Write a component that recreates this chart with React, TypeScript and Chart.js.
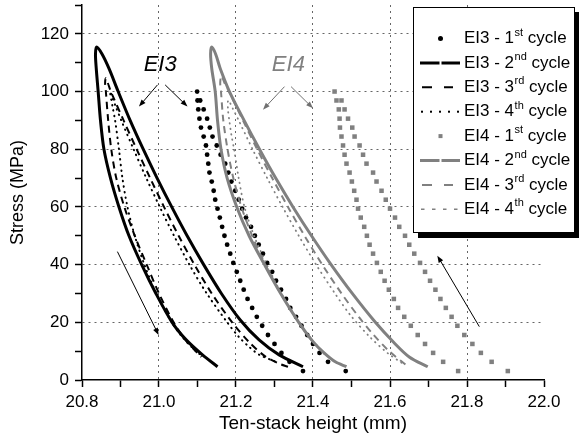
import { useEffect, useRef } from 'react';
import { Chart, registerables } from 'chart.js';

Chart.register(...registerables);

const FONT = '"Liberation Sans", Arial, sans-serif';
const GRAY = '#808080';

// ---- data (x = ten-stack height in mm, y = stress in MPa) ----
const stressLevels = [100, 96.9, 93.8, 90.6, 87.5, 84.4, 81.3, 78.1, 75, 71.9, 68.8, 65.6, 62.5, 59.4, 56.3, 53.1, 50, 46.9, 43.8, 40.6, 37.5, 34.4, 31.3, 28.1, 25, 21.9, 18.8, 15.6, 12.5, 9.4, 6.3, 3.1];

const ei3Cycle1Left = [21.099, 21.100, 21.102, 21.105, 21.109, 21.116, 21.122, 21.125, 21.128, 21.131, 21.137, 21.142, 21.146, 21.152, 21.158, 21.164, 21.170, 21.177, 21.185, 21.193, 21.202, 21.211, 21.220, 21.230, 21.242, 21.254, 21.268, 21.283, 21.300, 21.318, 21.339, 21.374];
const ei3Cycle1Right = [21.099, 21.107, 21.116, 21.125, 21.132, 21.139, 21.150, 21.160, 21.172, 21.180, 21.188, 21.198, 21.207, 21.216, 21.226, 21.239, 21.249, 21.259, 21.270, 21.281, 21.294, 21.304, 21.317, 21.330, 21.341, 21.356, 21.370, 21.385, 21.400, 21.417, 21.439, 21.485];

const ei4Cycle1Left = [21.456, 21.461, 21.467, 21.469, 21.470, 21.474, 21.478, 21.482, 21.487, 21.495, 21.501, 21.507, 21.513, 21.517, 21.524, 21.533, 21.540, 21.547, 21.556, 21.566, 21.576, 21.586, 21.597, 21.610, 21.621, 21.637, 21.654, 21.672, 21.691, 21.712, 21.738, 21.777];
const ei4Cycle1Right = [21.456, 21.474, 21.482, 21.491, 21.502, 21.508, 21.521, 21.530, 21.539, 21.556, 21.565, 21.578, 21.589, 21.600, 21.613, 21.624, 21.639, 21.650, 21.663, 21.678, 21.691, 21.704, 21.718, 21.731, 21.745, 21.760, 21.775, 21.793, 21.814, 21.836, 21.864, 21.906];

const ei3Cycle2X = [21.374, 21.312, 21.260, 21.211, 21.162, 21.116, 21.073, 21.033, 20.995, 20.959, 20.925, 20.894, 20.870, 20.852, 20.838, 20.835, 20.837, 20.842, 20.848, 20.857, 20.874, 20.896, 20.922, 20.955, 20.992, 21.034, 21.070, 21.113, 21.152];
const ei3Cycle2Y = [4.6, 8.7, 13.9, 20.8, 30, 40, 50, 60, 70, 80, 90, 100, 108, 113, 115.4, 113, 108, 100, 90, 80, 70, 60, 50, 40, 30, 20, 14, 8.7, 4.6];

const ei3Cycle3X = [21.335, 21.315, 21.275, 21.235, 21.190, 21.137, 21.092, 21.051, 21.013, 20.977, 20.942, 20.908, 20.875, 20.867, 20.862, 20.860, 20.862, 20.868, 20.876, 20.889, 20.910, 20.937, 20.968, 21.000, 21.038, 21.068, 21.095, 21.110];
const ei3Cycle3Y = [4.6, 5.5, 8.3, 13, 20, 30, 40, 50, 60, 70, 80, 90, 100, 103, 104.6, 103, 100, 90, 80, 70, 60, 50, 40, 30, 20, 14, 10, 8];

const ei3Cycle4X = [21.300, 21.261, 21.233, 21.207, 21.177, 21.124, 21.079, 21.039, 21.002, 20.967, 20.934, 20.902, 20.887, 20.873, 20.879, 20.886, 20.896, 20.905, 20.918, 20.937, 20.962, 20.993, 21.033, 21.060, 21.088, 21.105];
const ei3Cycle4Y = [6.5, 8.7, 11.6, 15, 20, 30, 40, 50, 60, 70, 80, 90, 95, 100, 95, 90, 80, 70, 60, 50, 40, 30, 20, 15, 11, 9];

const ei4Cycle2X = [21.698, 21.650, 21.610, 21.562, 21.502, 21.447, 21.396, 21.348, 21.303, 21.261, 21.221, 21.183, 21.159, 21.147, 21.137, 21.134, 21.137, 21.146, 21.152, 21.161, 21.177, 21.202, 21.234, 21.274, 21.316, 21.363, 21.400, 21.428, 21.458, 21.487];
const ei4Cycle2Y = [4.6, 8, 13, 20, 30, 40, 50, 60, 70, 80, 90, 100, 108, 113, 115.4, 113, 108, 100, 90, 80, 70, 60, 50, 40, 30, 20, 13.3, 9.5, 6.3, 4.6];

const ei4Cycle3X = [21.640, 21.597, 21.555, 21.521, 21.474, 21.424, 21.378, 21.335, 21.294, 21.255, 21.218, 21.182, 21.170, 21.162, 21.159, 21.161, 21.167, 21.178, 21.193, 21.214, 21.242, 21.276, 21.316, 21.363, 21.398, 21.430];
const ei4Cycle3Y = [5.4, 10.1, 16, 21.5, 30, 40, 50, 60, 70, 80, 90, 100, 103, 105.5, 103, 100, 90, 80, 70, 60, 50, 40, 30, 20, 13.5, 9];

const ei4Cycle4X = [21.630, 21.595, 21.547, 21.497, 21.457, 21.408, 21.363, 21.321, 21.281, 21.243, 21.207, 21.192, 21.180, 21.179, 21.183, 21.188, 21.195, 21.207, 21.222, 21.247, 21.280, 21.318, 21.364, 21.396, 21.424];
const ei4Cycle4Y = [6, 9.2, 15, 22.5, 30, 40, 50, 60, 70, 80, 90, 94, 97, 94, 89.6, 85, 80, 70, 60, 50, 40, 30, 20, 14, 10];

// legend texts
const legendSpecimen = ['EI3', 'EI3', 'EI3', 'EI3', 'EI4', 'EI4', 'EI4', 'EI4'];
const legendCycle = ['1', '2', '3', '4', '1', '2', '3', '4'];
const legendSuffix = ['st', 'nd', 'rd', 'th', 'st', 'nd', 'rd', 'th'];

// annotations (data coordinates)
const labelText = ['EI3', 'EI4'];
const labelX = [21.003, 21.336];
const labelY = [109.3, 109.3];
const arrowFromX = [20.996, 21.016, 21.326, 21.343, 20.892, 21.832];
const arrowFromY = [102.3, 102.3, 101.7, 101.7, 44.5, 18.5];
const arrowToX = [20.948, 21.074, 21.270, 21.400, 20.999, 21.723];
const arrowToY = [94.8, 94.8, 93.7, 94.2, 15.6, 43.1];
const arrowIsGray = [false, false, true, true, false, false];

const xTicks = { min: 20.8, max: 22.0, step: 0.1 };
const yTicks = { min: 0, max: 130, step: 10 };

const pts = (xs: number[], ys: number[]) => xs.map((x, i) => ({ x, y: ys[i] }));
const loopPts = (left: number[], right: number[]) => [
  ...pts(left, stressLevels),
  ...pts(right.slice(1), stressLevels.slice(1)),
];

function drawArrow(ctx: CanvasRenderingContext2D, x1: number, y1: number, x2: number, y2: number, color: string) {
  const ang = Math.atan2(y2 - y1, x2 - x1);
  const len = 7;
  const hw = 2.6;
  ctx.save();
  ctx.strokeStyle = color;
  ctx.fillStyle = color;
  ctx.lineWidth = 1;
  ctx.beginPath();
  ctx.moveTo(x1, y1);
  ctx.lineTo(x2 - Math.cos(ang) * len * 0.8, y2 - Math.sin(ang) * len * 0.8);
  ctx.stroke();
  ctx.beginPath();
  ctx.moveTo(x2, y2);
  ctx.lineTo(x2 - Math.cos(ang) * len + Math.sin(ang) * hw, y2 - Math.sin(ang) * len - Math.cos(ang) * hw);
  ctx.lineTo(x2 - Math.cos(ang) * len - Math.sin(ang) * hw, y2 - Math.sin(ang) * len + Math.cos(ang) * hw);
  ctx.closePath();
  ctx.fill();
  ctx.restore();
}

const annotationPlugin = {
  id: 'annotations',
  afterDatasetsDraw(chart: any) {
    const { ctx, scales } = chart;
    const xs = scales.x;
    const ys = scales.y;
    ctx.save();
    ctx.font = `italic 22px ${FONT}`;
    ctx.textAlign = 'center';
    ctx.textBaseline = 'middle';
    labelText.forEach((t, i) => {
      ctx.fillStyle = i === 0 ? '#000' : GRAY;
      ctx.fillText(t, xs.getPixelForValue(labelX[i]), ys.getPixelForValue(labelY[i]));
    });
    ctx.restore();
    arrowFromX.forEach((_, i) => {
      drawArrow(
        ctx,
        xs.getPixelForValue(arrowFromX[i]),
        ys.getPixelForValue(arrowFromY[i]),
        xs.getPixelForValue(arrowToX[i]),
        ys.getPixelForValue(arrowToY[i]),
        arrowIsGray[i] ? '#707070' : '#000'
      );
    });
  },
};

const legendPlugin = {
  id: 'boxLegend',
  afterDraw(chart: any) {
    const { ctx, chartArea } = chart;
    const bx = chartArea.right - 131;
    const by = 7;
    const bw = 162;
    const bh = 226;
    ctx.save();
    ctx.fillStyle = '#000';
    ctx.fillRect(bx + 5, by + 5, bw, bh);
    ctx.fillStyle = '#fff';
    ctx.fillRect(bx, by, bw, bh);
    ctx.strokeStyle = '#000';
    ctx.lineWidth = 1;
    ctx.strokeRect(bx + 0.5, by + 0.5, bw - 1, bh - 1);

    const sx = bx + 7;
    const tx = bx + 51;
    legendSpecimen.forEach((spec, i) => {
      const y = by + 31.5 + i * 24.4;
      const color = i < 4 ? '#000' : GRAY;
      const kind = i % 4;
      ctx.save();
      ctx.strokeStyle = color;
      ctx.fillStyle = color;
      if (kind === 0) {
        if (i < 4) {
          ctx.beginPath();
          ctx.arc(sx + 20.5, y, 2.5, 0, Math.PI * 2);
          ctx.fill();
        } else {
          ctx.fillRect(sx + 18.5, y - 2, 4, 4);
        }
      } else if (kind === 1) {
        ctx.lineWidth = 3;
        ctx.beginPath();
        ctx.moveTo(sx, y);
        ctx.lineTo(sx + 19.5, y);
        ctx.moveTo(sx + 21.5, y);
        ctx.lineTo(sx + 40, y);
        ctx.stroke();
      } else if (kind === 2) {
        ctx.lineWidth = 2;
        ctx.beginPath();
        ctx.moveTo(sx + 2, y);
        ctx.lineTo(sx + 12, y);
        ctx.moveTo(sx + 24, y);
        ctx.lineTo(sx + 33, y);
        ctx.stroke();
      } else {
        if (i < 4) {
          [2, 11, 20, 29, 38].forEach((d) => ctx.fillRect(sx + d - 1, y - 1, 2, 2));
        } else {
          ctx.lineWidth = 1.5;
          ctx.beginPath();
          [1, 12, 23, 34].forEach((d) => {
            ctx.moveTo(sx + d, y);
            ctx.lineTo(sx + d + 3.5, y);
          });
          ctx.stroke();
        }
      }
      ctx.restore();

      ctx.fillStyle = '#000';
      ctx.textBaseline = 'middle';
      ctx.textAlign = 'left';
      ctx.font = `17px ${FONT}`;
      const base = `${spec} - ${legendCycle[i]}`;
      ctx.fillText(base, tx, y);
      const w1 = ctx.measureText(base).width;
      ctx.font = `11px ${FONT}`;
      ctx.fillText(legendSuffix[i], tx + w1 + 0.5, y - 6);
      const w2 = ctx.measureText(legendSuffix[i]).width;
      ctx.font = `17px ${FONT}`;
      ctx.fillText(' cycle', tx + w1 + 0.5 + w2, y);
    });
    ctx.restore();
  },
};

const isMajorX = (v: number) => Math.round(v * 10) % 2 === 0;
const gridDotColor = 'rgba(0,0,0,0.6)';

export default function App() {
  const ref = useRef<HTMLCanvasElement>(null);

  useEffect(() => {
    if (!ref.current) return;
    const lineDs = (label: string, xs: number[], ys: number[], color: string, width: number, dash: number[], cap = 'butt') => ({
      label,
      data: pts(xs, ys),
      showLine: true,
      borderColor: color,
      backgroundColor: color,
      borderWidth: width,
      borderDash: dash,
      borderCapStyle: cap,
      pointRadius: 0,
      tension: 0.3,
      fill: false,
    });

    const chart = new Chart(ref.current, {
      type: 'scatter',
      data: {
        datasets: [
          lineDs('EI3 - 2nd cycle', ei3Cycle2X, ei3Cycle2Y, '#000', 3, []),
          lineDs('EI3 - 3rd cycle', ei3Cycle3X, ei3Cycle3Y, '#000', 2, [7, 5]),
          lineDs('EI3 - 4th cycle', ei3Cycle4X, ei3Cycle4Y, '#000', 2, [0.5, 5], 'round'),
          lineDs('EI4 - 2nd cycle', ei4Cycle2X, ei4Cycle2Y, GRAY, 3, []),
          lineDs('EI4 - 3rd cycle', ei4Cycle3X, ei4Cycle3Y, GRAY, 2, [7, 5]),
          lineDs('EI4 - 4th cycle', ei4Cycle4X, ei4Cycle4Y, GRAY, 1.8, [0.5, 5], 'round'),
          {
            label: 'EI3 - 1st cycle',
            data: loopPts(ei3Cycle1Left, ei3Cycle1Right),
            showLine: false,
            pointStyle: 'circle',
            pointRadius: 2.4,
            pointBorderWidth: 0,
            backgroundColor: '#000',
            borderColor: '#000',
          },
          {
            label: 'EI4 - 1st cycle',
            data: loopPts(ei4Cycle1Left, ei4Cycle1Right),
            showLine: false,
            pointStyle: 'rect',
            pointRadius: 3.2,
            pointBorderWidth: 0,
            backgroundColor: GRAY,
            borderColor: GRAY,
          },
        ] as any,
      },
      options: {
        responsive: false,
        animation: false,
        events: [],
        layout: { padding: { left: 0, right: 35, top: 5, bottom: 0 } },
        plugins: { legend: { display: false }, tooltip: { enabled: false } },
        scales: {
          x: {
            type: 'linear',
            min: xTicks.min,
            max: xTicks.max,
            afterFit: (s: any) => {
              s.height = 60;
              s.paddingLeft = 0;
              s.paddingRight = 0;
            },
            ticks: {
              stepSize: xTicks.step,
              color: '#000',
              padding: 5,
              font: { size: 17, family: FONT },
              maxRotation: 0,
              autoSkip: false,
              callback: (v: any) => (isMajorX(Number(v)) ? Number(v).toFixed(1) : ''),
            },
            grid: {
              color: (c: any) => {
                const t = Math.round(c.tick.value * 10);
                return t % 2 === 0 && t > 208 && t < 220 ? gridDotColor : 'rgba(0,0,0,0)';
              },
              lineWidth: 1,
              tickColor: '#000',
              tickWidth: 1.5,
              tickLength: 7,
            },
            border: { display: true, color: '#000', width: 1.5, dash: [2, 4] },
            title: {
              display: true,
              text: 'Ten-stack height (mm)',
              color: '#000',
              font: { size: 19, family: FONT },
              padding: { top: 0, bottom: 5 },
            },
          },
          y: {
            type: 'linear',
            min: yTicks.min,
            max: yTicks.max,
            afterFit: (s: any) => {
              s.width = 82;
              s.paddingTop = 0;
              s.paddingBottom = 0;
            },
            ticks: {
              stepSize: yTicks.step,
              color: '#000',
              padding: 6,
              font: { size: 17, family: FONT },
              autoSkip: false,
              callback: (v: any) => (Math.round(Number(v)) % 20 === 0 ? String(Math.round(Number(v))) : ''),
            },
            grid: {
              color: (c: any) => {
                const v = Math.round(c.tick.value);
                return v % 20 === 0 && v > 0 && v < 130 ? gridDotColor : 'rgba(0,0,0,0)';
              },
              lineWidth: 1,
              tickColor: '#000',
              tickWidth: 1.5,
              tickLength: 7,
            },
            border: { display: true, color: '#000', width: 1.5, dash: [2, 4] },
            title: {
              display: true,
              text: 'Stress (MPa)',
              color: '#000',
              font: { size: 18, family: FONT },
              padding: { top: 7, bottom: 0 },
            },
          },
        },
      } as any,
      plugins: [annotationPlugin, legendPlugin],
    });
    return () => chart.destroy();
  }, []);

  return (
    <div style={{ position: 'fixed', left: 0, top: 0, width: 579, height: 440, background: '#fff' }}>
      <canvas ref={ref} width={579} height={440} style={{ display: 'block', width: 579, height: 440 }} />
    </div>
  );
}
